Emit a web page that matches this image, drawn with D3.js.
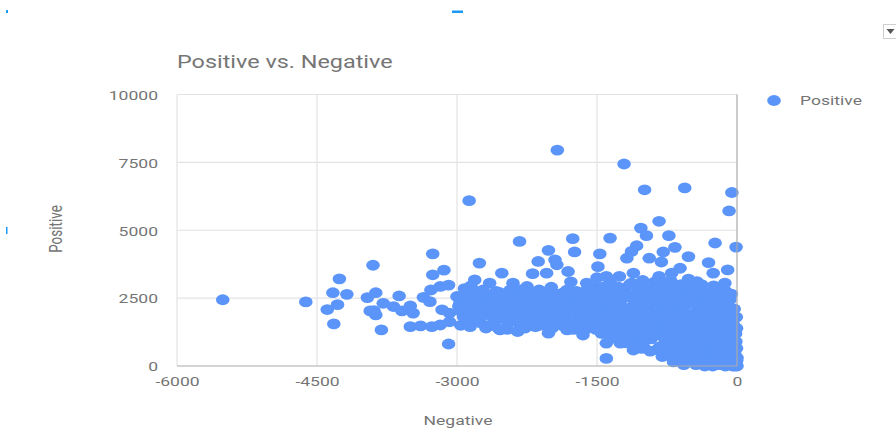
<!DOCTYPE html>
<html>
<head>
<meta charset="utf-8">
<script src="https://cdn.jsdelivr.net/npm/d3@7"></script>
<style>
  html, body { margin: 0; padding: 0; background: #fff; }
  svg { display: block; font-family: Roboto, "Noto Sans", sans-serif; }
</style>
</head>
<body>
<svg id="chart" width="896" height="428"></svg>
<script>
// Chart text
const chartTitle = "Positive vs. Negative";
const xAxisTitle = "Negative";
const yAxisTitle = "Positive";
const seriesName = "Positive";

// Axis ticks
const xTicks = [-6000, -4500, -3000, -1500, 0];
const yTicks = [0, 2500, 5000, 7500, 10000];

// Observations: [negative, positive]
const observations = [
  // sparse points on the far left
  [-5510,2440],[-4620,2360],[-4260,3210],[-4330,2700],[-4180,2640],[-4280,2260],[-4390,2080],[-4320,1550],
  [-3900,3710],[-3960,2520],[-3930,2030],[-3870,2700],[-3790,2310],[-3890,2040],[-3870,1880],[-3680,2190],
  [-3590,2030],[-3620,2580],[-3500,2210],[-3470,1950],[-3360,2530],[-3290,2370],[-3280,2800],[-3180,2930],
  [-3810,1330],[-3500,1450],[-3390,1480],[-3270,1450],[-3180,1510],[-3080,1630],[-3090,810],[-3160,2070],
  [-3000,2560],[-2970,2310],[-2860,1450],[-2830,2190],[-3080,1950],[-2930,1820],[-3260,4130],[-3140,3530],
  [-3260,3360],[-3090,2980],[-2870,6090],[-2760,3790],[-2810,3170],[-2850,2950],
  // middle band
  [-1925,7950],[-2330,4590],[-1760,4690],[-1740,4200],[-1360,4710],[-1470,4130],[-2020,4260],[-2130,3850],
  [-1950,3910],[-1930,3730],[-2190,3400],[-2520,3420],[-2040,3420],[-1810,3480],[-1490,3660],[-1400,3300],
  [-2650,3050],[-2400,3050],[-2250,2930],[-2000,2680],[-1610,3050],
  [-2540,1330],[-2350,1270],[-2020,1210],[-1650,1140],[-2160,1450],[-1820,1330],[-1430,1210],[-1400,840],[-1400,280],
  // upper scatter near zero
  [-1210,7440],[-990,6490],[-560,6560],[-55,6390],[-85,5710],[-835,5330],[-1030,5080],[-970,4800],[-730,4800],
  [-235,4530],[-10,4380],[-665,4370],[-1075,4430],[-1130,4220],[-790,4200],[-520,4030],[-940,3970],[-810,3830],
  [-1180,3970],[-305,3810],[-100,3540],[-610,3600],[-700,3420],[-835,3300],[-1110,3420],[-130,3050],[-430,3110],
  [-255,3420],[-5,1390],[-1400,1270],[-1250,840],[-1110,590],
  // dense cluster, -3000 to -2550
  [-2950,2000],[-2900,2600],[-2880,2250],[-2850,1700],[-2800,2450],[-2780,2000],[-2750,1600],[-2720,2800],
  [-2700,2300],[-2680,1900],[-2650,2550],[-2640,1500],[-2600,2150],[-2580,2750],[-2560,1750],
  [-2980,2200],[-2960,1500],[-2920,2850],[-2890,1900],[-2860,2400],[-2830,1650],[-2800,2750],[-2770,2250],
  [-2740,1850],[-2710,2550],[-2690,1400],[-2660,2100],[-2620,1800],[-2600,2500],[-2570,2050],[-2560,1400],[-2540,2700],
  // dense cluster, -2550 to -1950
  [-2500,2400],[-2480,2000],[-2450,1600],[-2430,2800],[-2400,2200],[-2380,1850],[-2350,2600],[-2320,1450],
  [-2300,2050],[-2280,2350],[-2250,1700],[-2220,2650],[-2200,1950],[-2180,2250],[-2150,1550],[-2120,2800],
  [-2100,2050],[-2080,1800],[-2050,2450],[-2030,1450],[-2010,2200],[-1990,2900],[-1970,1650],[-1950,2450],[-1930,1950],
  [-2520,1800],[-2500,2150],[-2470,2650],[-2460,1350],[-2420,1950],[-2400,2450],[-2370,1650],[-2340,2150],
  [-2310,2800],[-2290,1800],[-2270,1400],[-2240,2450],[-2230,2050],[-2200,1650],[-2170,2650],[-2160,1850],
  [-2130,2400],[-2110,1500],[-2090,2200],[-2060,2650],[-2050,1700],[-2020,1950],[-2000,2400],[-1980,1400],[-1960,2150],
  // dense cluster, -1950 to -1500
  [-1900,2200],[-1880,1500],[-1860,2700],[-1840,1800],[-1820,2400],[-1800,2050],[-1780,3100],[-1760,1600],
  [-1740,2300],[-1720,2750],[-1700,1950],[-1680,1400],[-1660,2500],[-1640,2150],[-1620,1750],[-1600,2850],
  [-1580,2350],[-1560,1550],[-1540,2000],[-1520,2650],[-1500,3250],[-1500,1850],
  [-1920,2650],[-1900,1800],[-1880,2400],[-1860,2050],[-1840,1450],[-1820,2800],[-1800,1650],[-1790,2550],
  [-1770,2100],[-1750,1350],[-1730,2650],[-1710,1750],[-1690,2450],[-1670,2050],[-1650,1600],[-1630,2700],
  [-1610,1950],[-1590,1400],[-1570,2500],[-1550,2150],[-1530,1700],[-1510,2900],[-1510,1350],
  // dense cluster, -1500 to -1000
  [-1480,2400],[-1460,1500],[-1440,2900],[-1420,2100],[-1400,1750],[-1380,2600],[-1360,3100],[-1350,1300],
  [-1330,2250],[-1310,1950],[-1300,2750],[-1280,1600],[-1260,3300],[-1250,2400],[-1230,1100],[-1210,2000],
  [-1200,2850],[-1180,1750],[-1160,2550],[-1150,1350],[-1130,3050],[-1120,2200],[-1100,900],[-1090,1900],
  [-1070,2700],[-1060,1500],[-1040,2350],[-1020,1150],[-1010,3150],[-1000,1800],[-1000,700],
  [-1490,2050],[-1470,2700],[-1450,1200],[-1430,1800],[-1410,2450],[-1390,1400],[-1370,2250],[-1350,2850],
  [-1340,1650],[-1320,1050],[-1300,2450],[-1290,1950],[-1270,2900],[-1260,1350],[-1240,2200],[-1220,1650],
  [-1200,2600],[-1190,850],[-1170,2050],[-1150,3000],[-1140,1550],[-1120,1100],[-1100,2450],[-1080,1750],
  [-1060,2950],[-1050,1250],[-1030,2100],[-1020,650],[-1010,2600],[-1000,1450],
  // dense cluster, -1000 to -600
  [-980,2500],[-960,2050],[-950,1350],[-940,2850],[-920,1000],[-900,2300],[-890,1650],[-880,3100],
  [-860,600],[-850,1950],[-840,2650],[-820,1250],[-810,2250],[-800,350],[-790,1550],[-780,2900],
  [-770,850],[-760,2000],[-750,1200],[-740,2500],[-730,400],[-720,1750],[-710,3150],[-700,1000],
  [-690,2250],[-680,150],[-670,1450],[-660,2700],[-650,650],[-640,1950],[-630,1150],[-620,2450],
  [-610,250],[-600,1600],[-600,3000],
  [-990,950],[-970,1650],[-960,2750],[-940,2250],[-930,550],[-910,1400],[-900,2650],[-880,1850],
  [-870,1150],[-860,3000],[-850,2350],[-830,700],[-820,1800],[-810,2850],[-800,1100],[-790,2400],
  [-780,500],[-770,1650],[-760,3000],[-750,2200],[-740,800],[-730,1350],[-720,2750],[-710,600],
  [-700,2000],[-690,1250],[-680,2950],[-670,500],[-660,1700],[-650,2350],[-640,950],[-630,2900],
  [-620,1400],[-610,750],[-600,2100],
  // dense cluster, -600 to -300
  [-590,900],[-580,2100],[-570,50],[-560,1300],[-550,2650],[-540,500],[-530,1800],[-520,3200],
  [-510,1050],[-500,2300],[-490,200],[-480,1500],[-470,2850],[-460,750],[-450,1950],[-440,50],
  [-430,1200],[-420,2500],[-410,400],[-400,1650],[-390,950],[-380,3000],[-370,2150],[-360,100],
  [-350,1400],[-340,700],[-330,2700],[-320,1850],[-310,300],[-300,1100],
  [-595,350],[-585,1450],[-575,2500],[-565,800],[-555,1950],[-545,3000],[-535,150],[-525,1200],
  [-515,2650],[-505,650],[-495,1700],[-485,2450],[-475,1000],[-465,300],[-455,2300],[-445,1450],
  [-435,2900],[-425,750],[-415,1900],[-405,150],[-395,2600],[-385,1200],[-375,550],[-365,1750],
  [-355,2400],[-345,0],[-335,1050],[-325,2200],[-315,1500],[-305,550],
  // dense cluster, -300 to 0
  [-290,2400],[-280,550],[-270,1550],[-260,0],[-250,2950],[-240,850],[-230,1950],[-220,250],
  [-210,1250],[-200,2650],[-190,600],[-180,1700],[-170,50],[-160,2200],[-150,950],[-140,400],
  [-130,1450],[-120,2750],[-110,150],[-100,1900],[-95,700],[-85,1100],[-75,2450],[-65,300],
  [-55,1600],[-45,0],[-40,800],[-30,2100],[-20,400],[-15,1200],[-10,100],[-5,650],[0,0],[0,300],
  [-295,1800],[-285,100],[-275,2700],[-265,1150],[-255,350],[-245,2100],[-235,1450],[-225,700],
  [-215,2850],[-205,50],[-195,1050],[-185,2400],[-175,1350],[-165,300],[-155,1800],[-145,2600],
  [-135,750],[-125,0],[-115,1150],[-105,2300],[-90,500],[-80,1700],[-70,50],[-60,2650],
  [-50,1000],[-35,1500],[-25,0],[-12,900],[-8,1800],[-3,200]
];

const svg = d3.select("#chart");
const stretch = 1.3;           // horizontal text stretch
const textColor = "#757575";
const dotColor = "#5b95f9";

const plot = { left: 177, right: 737, top: 94.5, bottom: 366 };
const x = d3.scaleLinear().domain([-6000, 0]).range([plot.left, plot.right]);
const y = d3.scaleLinear().domain([0, 10000]).range([plot.bottom, plot.top]);
const plain = d => String(d);  // ASCII hyphen for negatives

// Small stray UI marks around the chart frame
svg.append("rect").attr("x", 452).attr("y", 10.5).attr("width", 11).attr("height", 2.5).attr("fill", "#1b9af7");
svg.append("rect").attr("x", 6).attr("y", 10).attr("width", 2).attr("height", 3).attr("fill", "#1b9af7");
svg.append("rect").attr("x", 6).attr("y", 227).attr("width", 1.5).attr("height", 7).attr("fill", "#1b9af7");
// Menu button in the top-right corner
svg.append("rect").attr("x", 883.5).attr("y", 24.5).attr("width", 14).attr("height", 14)
  .attr("fill", "#fff").attr("stroke", "#cfcfcf");
svg.append("path").attr("d", "M886.5,29 L894.5,29 L890.5,34 Z").attr("fill", "#555");

// Gridlines
const grid = svg.append("g");
grid.selectAll("line.vx").data(xTicks.filter(d => d !== 0)).join("line")
  .attr("x1", d => x(d)).attr("x2", d => x(d))
  .attr("y1", plot.top).attr("y2", plot.bottom)
  .attr("stroke", "#e3e3e3").attr("stroke-width", 1.2);
grid.selectAll("line.hy").data(yTicks.filter(d => d !== 0)).join("line")
  .attr("x1", plot.left).attr("x2", plot.right)
  .attr("y1", d => y(d)).attr("y2", d => y(d))
  .attr("stroke", "#e3e3e3").attr("stroke-width", 1.2);

// Points
svg.append("g").selectAll("ellipse").data(observations).join("ellipse")
  .attr("cx", d => x(d[0])).attr("cy", d => y(d[1]))
  .attr("rx", 6.8).attr("ry", 5.4)
  .attr("fill", dotColor);

// Baselines at zero
svg.append("line").attr("x1", x(0)).attr("x2", x(0)).attr("y1", plot.top).attr("y2", plot.bottom)
  .attr("stroke", "#aaaaaa").attr("stroke-width", 1.2);
svg.append("line").attr("x1", plot.left).attr("x2", plot.right).attr("y1", y(0)).attr("y2", y(0))
  .attr("stroke", "#aaaaaa").attr("stroke-width", 1.2);

// Axes (labels only)
const yAxis = svg.append("g").attr("transform", `translate(${plot.left},0)`)
  .call(d3.axisLeft(y).tickValues(yTicks).tickSize(0).tickPadding(0).tickFormat(plain));
const xAxis = svg.append("g").attr("transform", `translate(0,${plot.bottom})`)
  .call(d3.axisBottom(x).tickValues(xTicks).tickSize(0).tickPadding(0).tickFormat(plain));
[yAxis, xAxis].forEach(g => {
  g.select(".domain").remove();
  g.selectAll("text").attr("fill", textColor).attr("font-size", 13.5)
    .attr("font-family", "Roboto, sans-serif");
});
yAxis.selectAll("text").attr("x", -19 / stretch).attr("dy", "0.36em")
  .attr("transform", `scale(${stretch},1)`);
xAxis.selectAll("text").attr("y", 0).attr("dy", "1.5em")
  .attr("transform", `scale(${stretch},1)`)
  .attr("x", 0);

// Titles
function stretchedText(tx, ty, str, size, anchor, extra = "") {
  return svg.append("text")
    .attr("transform", `translate(${tx},${ty}) scale(${stretch},1) ${extra}`)
    .attr("text-anchor", anchor)
    .attr("font-size", size)
    .attr("fill", textColor)
    .text(str);
}
stretchedText(177, 68, chartTitle, 18, "start");
stretchedText(458, 425, xAxisTitle, 13.5, "middle");
stretchedText(61.5, 229, yAxisTitle, 13.5, "middle", "rotate(-90)");

// Legend
svg.append("ellipse").attr("cx", 774).attr("cy", 100.5).attr("rx", 6.8).attr("ry", 5.4).attr("fill", dotColor);
stretchedText(800, 105, seriesName, 13.5, "start");
</script>
</body>
</html>
